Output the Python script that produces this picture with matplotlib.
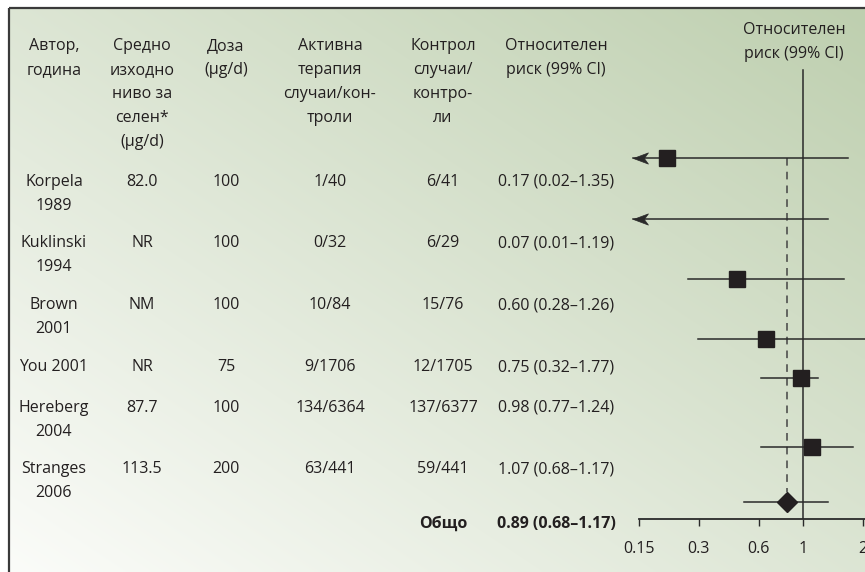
import numpy as np
import matplotlib
matplotlib.use("Agg")
import matplotlib.pyplot as plt
from matplotlib.path import Path

# ---------------- data ----------------
headers = ["Автор,\nгодина",
           "Средно\nизходно\nниво за\nселен*\n(µg/d)",
           "Доза\n(µg/d)",
           "Активна\nтерапия\nслучаи/кон-\nтроли",
           "Контрол\nслучаи/\nконтро-\nли",
           "Относителен\nриск (99% CI)"]
authors = ["Korpela\n1989", "Kuklinski\n1994", "Brown\n2001", "You 2001",
           "Hereberg\n2004", "Stranges\n2006"]
selenium = ["82.0", "NR", "NM", "NR", "87.7", "113.5"]
dose = ["100", "100", "100", "75", "100", "200"]
active = ["1/40", "0/32", "10/84", "9/1706", "134/6364", "63/441"]
control = ["6/41", "6/29", "15/76", "12/1705", "137/6377", "59/441"]
rr_text = ["0.17 (0.02–1.35)", "0.07 (0.01–1.19)", "0.60 (0.28–1.26)",
           "0.75 (0.32–1.77)", "0.98 (0.77–1.24)", "1.07 (0.68–1.17)"]
overall_label = "Общо"
overall_text = "0.89 (0.68–1.17)"

# values as drawn in the plot
est = [0.207, 0.07, 0.466, 0.65, 0.98, 1.11]
lo = [0.02, 0.01, 0.264, 0.297, 0.615, 0.615]
hi = [1.68, 1.34, 1.61, 2.10, 1.19, 1.78]
overall_est, overall_lo, overall_hi = 0.83, 0.506, 1.34
ticks = [0.15, 0.3, 0.6, 1, 2]
tick_labels = ["0.15", "0.3", "0.6", "1", "2"]

# ---------------- layout (pixels) ----------------
W, H = 865, 572
col_x = [54, 142, 226, 330, 443, 556]
header_base = 50
line_h = 24
row_base = [186, 247, 309, 371, 412, 473]
overall_base = 528
mark_y = [158, 219, 279, 339, 378, 447]
overall_y = 502
ax_left, ax_bottom_px, ax_top_px = 639, 519, 8
px_per_decade = 199.0
txt_col = "#231f20"
line_col = "#2a2a2a"
FS = 11.5

plt.rcParams['font.family'] = ['Open Sans', 'DejaVu Sans']

fig = plt.figure(figsize=(W / 100, H / 100), dpi=100)

# background axes in pixel coordinates
bg = fig.add_axes([0, 0, 1, 1])
bg.set_xlim(0, W)
bg.set_ylim(H, 0)
bg.axis("off")
xx, yy = np.meshgrid(np.linspace(0, 1, 200), np.linspace(0, 1, 200))
t = np.clip((xx + (1 - yy)) / 2, 0, 1)
c0 = np.array([251, 252, 249]) / 255
c1 = np.array([190, 207, 175]) / 255
img = c0[None, None, :] * (1 - t[..., None]) + c1[None, None, :] * t[..., None]
bg.imshow(img, extent=[9, W, H, 8], aspect="auto", zorder=0, interpolation="bilinear")
bg.plot([9, 9], [H, 8], color="#3a3a3a", lw=1.6, zorder=1, solid_capstyle="butt")
bg.plot([9, W], [8, 8], color="#3a3a3a", lw=1.6, zorder=1, solid_capstyle="butt")


def put(x, ybase, s, bold=False):
    for j, line in enumerate(s.split("\n")):
        bg.text(x, ybase + j * line_h, line, ha="center", va="baseline",
                fontsize=FS, color=txt_col,
                fontweight="bold" if bold else "normal", zorder=3)


for x, h in zip(col_x, headers):
    put(x, header_base, h)

columns = [authors, selenium, dose, active, control, rr_text]
for x, col in zip(col_x, columns):
    for yb, s in zip(row_base, col):
        put(x, yb, s)
put(col_x[4], overall_base, overall_label, bold=True)
put(col_x[5], overall_base, overall_text, bold=True)

# forest plot header
put(794, 34, "Относителен\nриск (99% CI)")

# ---------------- forest axes ----------------
ax = fig.add_axes([ax_left / W, (H - ax_bottom_px) / H,
                   1 - ax_left / W, (ax_bottom_px - ax_top_px) / H])
ax.patch.set_alpha(0)
ax.set_xscale("log")
xmin = ticks[0]
xmax = xmin * 10 ** ((W - ax_left) / px_per_decade)
ax.set_xlim(xmin, xmax)
ax.set_ylim(ax_bottom_px, ax_top_px)
for sp in ["top", "right", "left"]:
    ax.spines[sp].set_visible(False)
ax.spines["bottom"].set_color(line_col)
ax.spines["bottom"].set_linewidth(1.3)
ax.set_yticks([])
ax.set_xticks(ticks)
ax.set_xticklabels(tick_labels)
ax.xaxis.set_minor_locator(matplotlib.ticker.NullLocator())
ax.tick_params(axis="x", direction="out", length=5, width=1.0, color=line_col,
               labelsize=FS, labelcolor=txt_col, pad=10.5)

# line of no effect
ax.plot([1, 1], [70, ax_bottom_px], color=line_col, lw=1.1, zorder=2)
# dashed line at overall estimate
ax.plot([overall_est, overall_est], [mark_y[0], overall_y - 10], color="#444444",
        lw=1.1, ls=(0, (5, 4)), zorder=2)

# arrowhead marker (tip at origin, pointing left)
arrow_path = Path([(0, 0), (2, 0.75), (1.45, 0), (2, -0.75), (0, 0)],
                  [Path.MOVETO, Path.LINETO, Path.LINETO, Path.LINETO, Path.CLOSEPOLY])
arrow_tip = xmin * 10 ** (-6 / px_per_decade)

for e, l, h_, y in zip(est, lo, hi, mark_y):
    left = max(l, arrow_tip)
    ax.plot([left, h_], [y, y], color=line_col, lw=1.1, zorder=3, clip_on=False)
    if l < xmin:
        ax.plot([arrow_tip], [y], marker=arrow_path, markersize=21.5,
                color=line_col, mec=line_col, mew=0.5, zorder=4, clip_on=False)
    if e >= xmin:
        ax.plot([e], [y], marker="s", markersize=11.5, color="#231f20", zorder=5)

ax.plot([overall_lo, overall_hi], [overall_y, overall_y], color=line_col, lw=1.1, zorder=3)
ax.plot([overall_est], [overall_y], marker="D", markersize=10.5, color="#231f20", zorder=5)

fig.savefig("out.png", dpi=100)
